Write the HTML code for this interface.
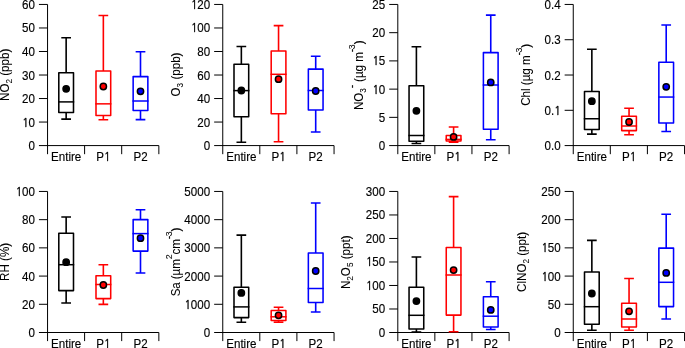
<!DOCTYPE html><html><head><meta charset="utf-8"><title>Box plots</title><style>html,body{margin:0;padding:0;background:#fff}svg{display:block;will-change:transform}</style></head><body><svg width="685" height="348" viewBox="0 0 685 348" font-family="'Liberation Sans', Arial, sans-serif" font-size="11.6" fill="#000" stroke="#000" stroke-width="0.14">
<rect width="685" height="348" fill="#fff" stroke="none"/>
<g><path d="M47.55 4.45V154.18M38.95 145.58H158.85M38.95 122.06H47.55M38.95 98.54H47.55M38.95 75.02H47.55M38.95 51.49H47.55M38.95 27.97H47.55M38.95 4.45H47.55M84.60 145.58v8.6M121.70 145.58v8.6M158.85 145.58v8.6" fill="none" stroke="#000" stroke-width="1.0"/><text transform="translate(34.95 150.08) scale(1 1.08)" text-anchor="end">0</text><text transform="translate(34.95 126.56) scale(1 1.08)" text-anchor="end"><tspan font-family="NanumGothic, 'Liberation Sans', sans-serif" font-size="10.7" stroke-width="0.36" letter-spacing="-0.25">1</tspan>0</text><text transform="translate(34.95 103.04) scale(1 1.08)" text-anchor="end">20</text><text transform="translate(34.95 79.52) scale(1 1.08)" text-anchor="end">30</text><text transform="translate(34.95 55.99) scale(1 1.08)" text-anchor="end">40</text><text transform="translate(34.95 32.47) scale(1 1.08)" text-anchor="end">50</text><text transform="translate(34.95 8.95) scale(1 1.08)" text-anchor="end">60</text><text transform="translate(66.15 161.48) scale(1 1.08)" text-anchor="middle">Entire</text><text transform="translate(103.35 161.48) scale(1 1.08)" text-anchor="middle">P<tspan font-family="NanumGothic, 'Liberation Sans', sans-serif" font-size="10.7" stroke-width="0.36">1</tspan></text><text transform="translate(140.50 161.48) scale(1 1.08)" text-anchor="middle">P2</text><text transform="translate(8.90 100.90) rotate(-90) scale(1 1.05)" stroke-width="0.05" letter-spacing="0" xml:space="preserve"><tspan>NO</tspan><tspan dy="2.60" font-size="8.2">2</tspan><tspan dy="-2.60"> (ppb)</tspan></text><path d="M61.30 37.70H71.00M58.80 72.65H73.50V112.50H58.80ZM61.30 119.10H71.00" fill="none" stroke="#000" stroke-width="1.55" stroke-linejoin="round"/><path d="M58.10 101.90H74.20" fill="none" stroke="#000" stroke-width="1.5"/><path d="M66.15 37.70V72.65M66.15 112.50V119.10" fill="none" stroke="#000" stroke-width="1.6"/><circle cx="66.15" cy="88.80" r="3.15" fill="#000" stroke="#000" stroke-width="1.5"/><path d="M98.50 15.45H108.20M96.00 70.90H110.70V115.50H96.00ZM98.50 119.80H108.20" fill="none" stroke="#ff0000" stroke-width="1.55" stroke-linejoin="round"/><path d="M95.30 103.85H111.40" fill="none" stroke="#ff0000" stroke-width="1.5"/><path d="M103.35 15.45V70.90M103.35 115.50V119.80" fill="none" stroke="#ff0000" stroke-width="1.6"/><circle cx="103.35" cy="86.50" r="3.15" fill="#ff0000" stroke="#000" stroke-width="1.5"/><path d="M135.65 51.70H145.35M133.15 76.60H147.85V110.40H133.15ZM135.65 119.60H145.35" fill="none" stroke="#0000ff" stroke-width="1.55" stroke-linejoin="round"/><path d="M132.45 101.00H148.55" fill="none" stroke="#0000ff" stroke-width="1.5"/><path d="M140.50 51.70V76.60M140.50 110.40V119.60" fill="none" stroke="#0000ff" stroke-width="1.6"/><circle cx="140.50" cy="91.30" r="3.15" fill="#0000ff" stroke="#000" stroke-width="1.5"/></g>
<g><path d="M222.75 4.45V154.18M214.15 145.58H334.05M214.15 122.06H222.75M214.15 98.54H222.75M214.15 75.02H222.75M214.15 51.49H222.75M214.15 27.97H222.75M214.15 4.45H222.75M259.80 145.58v8.6M296.90 145.58v8.6M334.05 145.58v8.6" fill="none" stroke="#000" stroke-width="1.0"/><text transform="translate(210.15 150.08) scale(1 1.08)" text-anchor="end">0</text><text transform="translate(210.15 126.56) scale(1 1.08)" text-anchor="end">20</text><text transform="translate(210.15 103.04) scale(1 1.08)" text-anchor="end">40</text><text transform="translate(210.15 79.52) scale(1 1.08)" text-anchor="end">60</text><text transform="translate(210.15 55.99) scale(1 1.08)" text-anchor="end">80</text><text transform="translate(210.15 32.47) scale(1 1.08)" text-anchor="end"><tspan font-family="NanumGothic, 'Liberation Sans', sans-serif" font-size="10.7" stroke-width="0.36" letter-spacing="-0.25">1</tspan>00</text><text transform="translate(210.15 8.95) scale(1 1.08)" text-anchor="end"><tspan font-family="NanumGothic, 'Liberation Sans', sans-serif" font-size="10.7" stroke-width="0.36" letter-spacing="-0.25">1</tspan>20</text><text transform="translate(241.35 161.48) scale(1 1.08)" text-anchor="middle">Entire</text><text transform="translate(278.55 161.48) scale(1 1.08)" text-anchor="middle">P<tspan font-family="NanumGothic, 'Liberation Sans', sans-serif" font-size="10.7" stroke-width="0.36">1</tspan></text><text transform="translate(315.70 161.48) scale(1 1.08)" text-anchor="middle">P2</text><text transform="translate(180.00 96.40) rotate(-90) scale(1 1.05)" stroke-width="0.05" letter-spacing="0" xml:space="preserve"><tspan>O</tspan><tspan dy="2.60" font-size="8.2">3</tspan><tspan dy="-2.60"> (ppb)</tspan></text><path d="M236.50 46.50H246.20M234.00 64.20H248.70V116.70H234.00ZM236.50 142.30H246.20" fill="none" stroke="#000" stroke-width="1.55" stroke-linejoin="round"/><path d="M233.30 90.60H249.40" fill="none" stroke="#000" stroke-width="1.5"/><path d="M241.35 46.50V64.20M241.35 116.70V142.30" fill="none" stroke="#000" stroke-width="1.6"/><circle cx="241.35" cy="90.50" r="3.15" fill="#000" stroke="#000" stroke-width="1.5"/><path d="M273.70 25.60H283.40M271.20 50.90H285.90V113.70H271.20ZM273.70 141.80H283.40" fill="none" stroke="#ff0000" stroke-width="1.55" stroke-linejoin="round"/><path d="M270.50 74.30H286.60" fill="none" stroke="#ff0000" stroke-width="1.5"/><path d="M278.55 25.60V50.90M278.55 113.70V141.80" fill="none" stroke="#ff0000" stroke-width="1.6"/><circle cx="278.55" cy="79.20" r="3.15" fill="#ff0000" stroke="#000" stroke-width="1.5"/><path d="M310.85 56.30H320.55M308.35 69.10H323.05V109.90H308.35ZM310.85 132.00H320.55" fill="none" stroke="#0000ff" stroke-width="1.55" stroke-linejoin="round"/><path d="M307.65 90.50H323.75" fill="none" stroke="#0000ff" stroke-width="1.5"/><path d="M315.70 56.30V69.10M315.70 109.90V132.00" fill="none" stroke="#0000ff" stroke-width="1.6"/><circle cx="315.70" cy="91.00" r="3.15" fill="#0000ff" stroke="#000" stroke-width="1.5"/></g>
<g><path d="M397.80 4.45V154.18M389.20 145.58H509.10M389.20 117.35H397.80M389.20 89.13H397.80M389.20 60.90H397.80M389.20 32.68H397.80M389.20 4.45H397.80M434.85 145.58v8.6M471.95 145.58v8.6M509.10 145.58v8.6" fill="none" stroke="#000" stroke-width="1.0"/><text transform="translate(385.20 150.08) scale(1 1.08)" text-anchor="end">0</text><text transform="translate(385.20 121.85) scale(1 1.08)" text-anchor="end">5</text><text transform="translate(385.20 93.63) scale(1 1.08)" text-anchor="end"><tspan font-family="NanumGothic, 'Liberation Sans', sans-serif" font-size="10.7" stroke-width="0.36" letter-spacing="-0.25">1</tspan>0</text><text transform="translate(385.20 65.40) scale(1 1.08)" text-anchor="end"><tspan font-family="NanumGothic, 'Liberation Sans', sans-serif" font-size="10.7" stroke-width="0.36" letter-spacing="-0.25">1</tspan>5</text><text transform="translate(385.20 37.18) scale(1 1.08)" text-anchor="end">20</text><text transform="translate(385.20 8.95) scale(1 1.08)" text-anchor="end">25</text><text transform="translate(416.40 161.48) scale(1 1.08)" text-anchor="middle">Entire</text><text transform="translate(453.60 161.48) scale(1 1.08)" text-anchor="middle">P<tspan font-family="NanumGothic, 'Liberation Sans', sans-serif" font-size="10.7" stroke-width="0.36">1</tspan></text><text transform="translate(490.75 161.48) scale(1 1.08)" text-anchor="middle">P2</text><text transform="translate(363.00 110.00) rotate(-90) scale(1 1.05)" stroke-width="0.05" letter-spacing="0" xml:space="preserve"><tspan>NO</tspan><tspan dy="2.60" font-size="8.2">3</tspan><tspan dy="-10.30" font-size="8.8" stroke-width="0.45">-</tspan><tspan dy="7.70"> (µg m</tspan><tspan dy="-7.70" font-size="8.8" stroke-width="0.45">-</tspan><tspan dx="-0.1" font-size="8.8">3</tspan><tspan dy="7.70">)</tspan></text><path d="M411.55 46.70H421.25M409.05 85.70H423.75V141.25H409.05ZM411.55 143.50H421.25" fill="none" stroke="#000" stroke-width="1.55" stroke-linejoin="round"/><path d="M408.35 135.50H424.45" fill="none" stroke="#000" stroke-width="1.5"/><path d="M416.40 46.70V85.70M416.40 141.25V143.50" fill="none" stroke="#000" stroke-width="1.6"/><circle cx="416.40" cy="110.80" r="3.15" fill="#000" stroke="#000" stroke-width="1.5"/><path d="M448.75 126.95H458.45M446.25 135.50H460.95V141.00H446.25ZM448.75 142.10H458.45" fill="none" stroke="#ff0000" stroke-width="1.55" stroke-linejoin="round"/><path d="M445.55 139.40H461.65" fill="none" stroke="#ff0000" stroke-width="1.5"/><path d="M453.60 126.95V135.50M453.60 141.00V142.10" fill="none" stroke="#ff0000" stroke-width="1.6"/><circle cx="453.60" cy="136.90" r="3.15" fill="#ff0000" stroke="#000" stroke-width="1.5"/><path d="M485.90 15.10H495.60M483.40 52.60H498.10V129.20H483.40ZM485.90 139.70H495.60" fill="none" stroke="#0000ff" stroke-width="1.55" stroke-linejoin="round"/><path d="M482.70 85.00H498.80" fill="none" stroke="#0000ff" stroke-width="1.5"/><path d="M490.75 15.10V52.60M490.75 129.20V139.70" fill="none" stroke="#0000ff" stroke-width="1.6"/><circle cx="490.75" cy="82.40" r="3.15" fill="#0000ff" stroke="#000" stroke-width="1.5"/></g>
<g><path d="M573.25 4.45V154.18M564.65 145.58H684.55M564.65 110.30H573.25M564.65 75.02H573.25M564.65 39.73H573.25M564.65 4.45H573.25M610.30 145.58v8.6M647.40 145.58v8.6M684.55 145.58v8.6" fill="none" stroke="#000" stroke-width="1.0"/><text transform="translate(560.65 150.08) scale(1 1.08)" text-anchor="end">0.0</text><text transform="translate(560.65 114.80) scale(1 1.08)" text-anchor="end">0.<tspan font-family="NanumGothic, 'Liberation Sans', sans-serif" font-size="10.7" stroke-width="0.36">1</tspan></text><text transform="translate(560.65 79.52) scale(1 1.08)" text-anchor="end">0.2</text><text transform="translate(560.65 44.23) scale(1 1.08)" text-anchor="end">0.3</text><text transform="translate(560.65 8.95) scale(1 1.08)" text-anchor="end">0.4</text><text transform="translate(591.85 161.48) scale(1 1.08)" text-anchor="middle">Entire</text><text transform="translate(629.05 161.48) scale(1 1.08)" text-anchor="middle">P<tspan font-family="NanumGothic, 'Liberation Sans', sans-serif" font-size="10.7" stroke-width="0.36">1</tspan></text><text transform="translate(666.20 161.48) scale(1 1.08)" text-anchor="middle">P2</text><text transform="translate(530.20 105.80) rotate(-90) scale(1 1.05)" stroke-width="0.05" letter-spacing="0" xml:space="preserve"><tspan>Chl (µg m</tspan><tspan dy="-7.70" font-size="8.8" stroke-width="0.45">-</tspan><tspan dx="-0.1" font-size="8.8">3</tspan><tspan dy="7.70">)</tspan></text><path d="M587.00 49.20H596.70M584.50 91.50H599.20V129.50H584.50ZM587.00 134.10H596.70" fill="none" stroke="#000" stroke-width="1.55" stroke-linejoin="round"/><path d="M583.80 118.75H599.90" fill="none" stroke="#000" stroke-width="1.5"/><path d="M591.85 49.20V91.50M591.85 129.50V134.10" fill="none" stroke="#000" stroke-width="1.6"/><circle cx="591.85" cy="101.20" r="3.15" fill="#000" stroke="#000" stroke-width="1.5"/><path d="M624.20 108.15H633.90M621.70 116.20H636.40V130.60H621.70ZM624.20 134.80H633.90" fill="none" stroke="#ff0000" stroke-width="1.55" stroke-linejoin="round"/><path d="M621.00 126.00H637.10" fill="none" stroke="#ff0000" stroke-width="1.5"/><path d="M629.05 108.15V116.20M629.05 130.60V134.80" fill="none" stroke="#ff0000" stroke-width="1.6"/><circle cx="629.05" cy="122.00" r="3.15" fill="#ff0000" stroke="#000" stroke-width="1.5"/><path d="M661.35 25.05H671.05M658.85 62.30H673.55V122.90H658.85ZM661.35 131.40H671.05" fill="none" stroke="#0000ff" stroke-width="1.55" stroke-linejoin="round"/><path d="M658.15 97.05H674.25" fill="none" stroke="#0000ff" stroke-width="1.5"/><path d="M666.20 25.05V62.30M666.20 122.90V131.40" fill="none" stroke="#0000ff" stroke-width="1.6"/><circle cx="666.20" cy="86.80" r="3.15" fill="#0000ff" stroke="#000" stroke-width="1.5"/></g>
<g><path d="M47.55 191.45V341.10M38.95 332.50H158.85M38.95 304.29H47.55M38.95 276.08H47.55M38.95 247.87H47.55M38.95 219.66H47.55M38.95 191.45H47.55M84.60 332.50v8.6M121.70 332.50v8.6M158.85 332.50v8.6" fill="none" stroke="#000" stroke-width="1.0"/><text transform="translate(34.95 337.00) scale(1 1.08)" text-anchor="end">0</text><text transform="translate(34.95 308.79) scale(1 1.08)" text-anchor="end">20</text><text transform="translate(34.95 280.58) scale(1 1.08)" text-anchor="end">40</text><text transform="translate(34.95 252.37) scale(1 1.08)" text-anchor="end">60</text><text transform="translate(34.95 224.16) scale(1 1.08)" text-anchor="end">80</text><text transform="translate(34.95 195.95) scale(1 1.08)" text-anchor="end"><tspan font-family="NanumGothic, 'Liberation Sans', sans-serif" font-size="10.7" stroke-width="0.36" letter-spacing="-0.25">1</tspan>00</text><text transform="translate(66.15 348.40) scale(1 1.08)" text-anchor="middle">Entire</text><text transform="translate(103.35 348.40) scale(1 1.08)" text-anchor="middle">P<tspan font-family="NanumGothic, 'Liberation Sans', sans-serif" font-size="10.7" stroke-width="0.36">1</tspan></text><text transform="translate(140.50 348.40) scale(1 1.08)" text-anchor="middle">P2</text><text transform="translate(8.80 280.90) rotate(-90) scale(1 1.05)" stroke-width="0.05" letter-spacing="0" xml:space="preserve"><tspan>RH (%)</tspan></text><path d="M61.30 217.00H71.00M58.80 233.30H73.50V290.60H58.80ZM61.30 302.95H71.00" fill="none" stroke="#000" stroke-width="1.55" stroke-linejoin="round"/><path d="M58.10 264.70H74.20" fill="none" stroke="#000" stroke-width="1.5"/><path d="M66.15 217.00V233.30M66.15 290.60V302.95" fill="none" stroke="#000" stroke-width="1.6"/><circle cx="66.15" cy="262.15" r="3.15" fill="#000" stroke="#000" stroke-width="1.5"/><path d="M98.50 264.70H108.20M96.00 275.75H110.70V298.60H96.00ZM98.50 304.35H108.20" fill="none" stroke="#ff0000" stroke-width="1.55" stroke-linejoin="round"/><path d="M95.30 284.50H111.40" fill="none" stroke="#ff0000" stroke-width="1.5"/><path d="M103.35 264.70V275.75M103.35 298.60V304.35" fill="none" stroke="#ff0000" stroke-width="1.6"/><circle cx="103.35" cy="285.00" r="3.15" fill="#ff0000" stroke="#000" stroke-width="1.5"/><path d="M135.65 209.80H145.35M133.15 219.60H147.85V251.10H133.15ZM135.65 273.00H145.35" fill="none" stroke="#0000ff" stroke-width="1.55" stroke-linejoin="round"/><path d="M132.45 233.60H148.55" fill="none" stroke="#0000ff" stroke-width="1.5"/><path d="M140.50 209.80V219.60M140.50 251.10V273.00" fill="none" stroke="#0000ff" stroke-width="1.6"/><circle cx="140.50" cy="238.20" r="3.15" fill="#0000ff" stroke="#000" stroke-width="1.5"/></g>
<g><path d="M222.75 191.45V341.10M214.15 332.50H334.05M214.15 304.29H222.75M214.15 276.08H222.75M214.15 247.87H222.75M214.15 219.66H222.75M214.15 191.45H222.75M259.80 332.50v8.6M296.90 332.50v8.6M334.05 332.50v8.6" fill="none" stroke="#000" stroke-width="1.0"/><text transform="translate(210.15 337.00) scale(1 1.08)" text-anchor="end">0</text><text transform="translate(210.15 308.79) scale(1 1.08)" text-anchor="end"><tspan font-family="NanumGothic, 'Liberation Sans', sans-serif" font-size="10.7" stroke-width="0.36" letter-spacing="-0.25">1</tspan>000</text><text transform="translate(210.15 280.58) scale(1 1.08)" text-anchor="end">2000</text><text transform="translate(210.15 252.37) scale(1 1.08)" text-anchor="end">3000</text><text transform="translate(210.15 224.16) scale(1 1.08)" text-anchor="end">4000</text><text transform="translate(210.15 195.95) scale(1 1.08)" text-anchor="end">5000</text><text transform="translate(241.35 348.40) scale(1 1.08)" text-anchor="middle">Entire</text><text transform="translate(278.55 348.40) scale(1 1.08)" text-anchor="middle">P<tspan font-family="NanumGothic, 'Liberation Sans', sans-serif" font-size="10.7" stroke-width="0.36">1</tspan></text><text transform="translate(315.70 348.40) scale(1 1.08)" text-anchor="middle">P2</text><text transform="translate(180.00 296.30) rotate(-90) scale(1 1.05)" stroke-width="0.05" letter-spacing="-0.08" xml:space="preserve"><tspan>Sa (µm</tspan><tspan dy="-7.70" font-size="8.8">2</tspan><tspan dy="7.70">cm</tspan><tspan dy="-7.70" font-size="8.8" stroke-width="0.45">-</tspan><tspan dx="-0.1" font-size="8.8">3</tspan><tspan dy="7.70">)</tspan></text><path d="M236.50 235.10H246.20M234.00 287.30H248.70V317.60H234.00ZM236.50 322.30H246.20" fill="none" stroke="#000" stroke-width="1.55" stroke-linejoin="round"/><path d="M233.30 306.90H249.40" fill="none" stroke="#000" stroke-width="1.5"/><path d="M241.35 235.10V287.30M241.35 317.60V322.30" fill="none" stroke="#000" stroke-width="1.6"/><circle cx="241.35" cy="292.90" r="3.15" fill="#000" stroke="#000" stroke-width="1.5"/><path d="M273.70 307.20H283.40M271.20 310.50H285.90V320.50H271.20ZM273.70 322.20H283.40" fill="none" stroke="#ff0000" stroke-width="1.55" stroke-linejoin="round"/><path d="M270.50 316.80H286.60" fill="none" stroke="#ff0000" stroke-width="1.5"/><path d="M278.55 307.20V310.50M278.55 320.50V322.20" fill="none" stroke="#ff0000" stroke-width="1.6"/><circle cx="278.55" cy="315.30" r="3.15" fill="#ff0000" stroke="#000" stroke-width="1.5"/><path d="M310.85 203.00H320.55M308.35 253.00H323.05V302.50H308.35ZM310.85 312.00H320.55" fill="none" stroke="#0000ff" stroke-width="1.55" stroke-linejoin="round"/><path d="M307.65 288.50H323.75" fill="none" stroke="#0000ff" stroke-width="1.5"/><path d="M315.70 203.00V253.00M315.70 302.50V312.00" fill="none" stroke="#0000ff" stroke-width="1.6"/><circle cx="315.70" cy="271.00" r="3.15" fill="#0000ff" stroke="#000" stroke-width="1.5"/></g>
<g><path d="M397.80 191.45V341.10M389.20 332.50H509.10M389.20 308.99H397.80M389.20 285.48H397.80M389.20 261.98H397.80M389.20 238.47H397.80M389.20 214.96H397.80M389.20 191.45H397.80M434.85 332.50v8.6M471.95 332.50v8.6M509.10 332.50v8.6" fill="none" stroke="#000" stroke-width="1.0"/><text transform="translate(385.20 337.00) scale(1 1.08)" text-anchor="end">0</text><text transform="translate(385.20 313.49) scale(1 1.08)" text-anchor="end">50</text><text transform="translate(385.20 289.98) scale(1 1.08)" text-anchor="end"><tspan font-family="NanumGothic, 'Liberation Sans', sans-serif" font-size="10.7" stroke-width="0.36" letter-spacing="-0.25">1</tspan>00</text><text transform="translate(385.20 266.48) scale(1 1.08)" text-anchor="end"><tspan font-family="NanumGothic, 'Liberation Sans', sans-serif" font-size="10.7" stroke-width="0.36" letter-spacing="-0.25">1</tspan>50</text><text transform="translate(385.20 242.97) scale(1 1.08)" text-anchor="end">200</text><text transform="translate(385.20 219.46) scale(1 1.08)" text-anchor="end">250</text><text transform="translate(385.20 195.95) scale(1 1.08)" text-anchor="end">300</text><text transform="translate(416.40 348.40) scale(1 1.08)" text-anchor="middle">Entire</text><text transform="translate(453.60 348.40) scale(1 1.08)" text-anchor="middle">P<tspan font-family="NanumGothic, 'Liberation Sans', sans-serif" font-size="10.7" stroke-width="0.36">1</tspan></text><text transform="translate(490.75 348.40) scale(1 1.08)" text-anchor="middle">P2</text><text transform="translate(350.10 289.05) rotate(-90) scale(1 1.05)" stroke-width="0.05" letter-spacing="0" xml:space="preserve"><tspan>N</tspan><tspan dy="2.60" font-size="8.2">2</tspan><tspan dy="-2.60">O</tspan><tspan dy="2.60" font-size="8.2">5</tspan><tspan dy="-2.60"> (ppt)</tspan></text><path d="M411.55 257.00H421.25M409.05 287.30H423.75V328.90H409.05ZM411.55 332.00H421.25" fill="none" stroke="#000" stroke-width="1.55" stroke-linejoin="round"/><path d="M408.35 315.30H424.45" fill="none" stroke="#000" stroke-width="1.5"/><path d="M416.40 257.00V287.30M416.40 328.90V332.00" fill="none" stroke="#000" stroke-width="1.6"/><circle cx="416.40" cy="301.10" r="3.15" fill="#000" stroke="#000" stroke-width="1.5"/><path d="M448.75 196.60H458.45M446.25 247.40H460.95V315.10H446.25ZM448.75 331.80H458.45" fill="none" stroke="#ff0000" stroke-width="1.55" stroke-linejoin="round"/><path d="M445.55 275.00H461.65" fill="none" stroke="#ff0000" stroke-width="1.5"/><path d="M453.60 196.60V247.40M453.60 315.10V331.80" fill="none" stroke="#ff0000" stroke-width="1.6"/><circle cx="453.60" cy="270.10" r="3.15" fill="#ff0000" stroke="#000" stroke-width="1.5"/><path d="M485.90 281.70H495.60M483.40 296.80H498.10V327.00H483.40ZM485.90 329.50H495.60" fill="none" stroke="#0000ff" stroke-width="1.55" stroke-linejoin="round"/><path d="M482.70 316.20H498.80" fill="none" stroke="#0000ff" stroke-width="1.5"/><path d="M490.75 281.70V296.80M490.75 327.00V329.50" fill="none" stroke="#0000ff" stroke-width="1.6"/><circle cx="490.75" cy="309.90" r="3.15" fill="#0000ff" stroke="#000" stroke-width="1.5"/></g>
<g><path d="M573.25 191.45V341.10M564.65 332.50H684.55M564.65 304.29H573.25M564.65 276.08H573.25M564.65 247.87H573.25M564.65 219.66H573.25M564.65 191.45H573.25M610.30 332.50v8.6M647.40 332.50v8.6M684.55 332.50v8.6" fill="none" stroke="#000" stroke-width="1.0"/><text transform="translate(560.65 337.00) scale(1 1.08)" text-anchor="end">0</text><text transform="translate(560.65 308.79) scale(1 1.08)" text-anchor="end">50</text><text transform="translate(560.65 280.58) scale(1 1.08)" text-anchor="end"><tspan font-family="NanumGothic, 'Liberation Sans', sans-serif" font-size="10.7" stroke-width="0.36" letter-spacing="-0.25">1</tspan>00</text><text transform="translate(560.65 252.37) scale(1 1.08)" text-anchor="end"><tspan font-family="NanumGothic, 'Liberation Sans', sans-serif" font-size="10.7" stroke-width="0.36" letter-spacing="-0.25">1</tspan>50</text><text transform="translate(560.65 224.16) scale(1 1.08)" text-anchor="end">200</text><text transform="translate(560.65 195.95) scale(1 1.08)" text-anchor="end">250</text><text transform="translate(591.85 348.40) scale(1 1.08)" text-anchor="middle">Entire</text><text transform="translate(629.05 348.40) scale(1 1.08)" text-anchor="middle">P<tspan font-family="NanumGothic, 'Liberation Sans', sans-serif" font-size="10.7" stroke-width="0.36">1</tspan></text><text transform="translate(666.20 348.40) scale(1 1.08)" text-anchor="middle">P2</text><text transform="translate(526.40 291.90) rotate(-90) scale(1 1.05)" stroke-width="0.05" letter-spacing="0" xml:space="preserve"><tspan>ClNO</tspan><tspan dy="2.60" font-size="8.2">2</tspan><tspan dy="-2.60"> (ppt)</tspan></text><path d="M587.00 240.35H596.70M584.50 271.90H599.20V324.20H584.50ZM587.00 330.20H596.70" fill="none" stroke="#000" stroke-width="1.55" stroke-linejoin="round"/><path d="M583.80 306.70H599.90" fill="none" stroke="#000" stroke-width="1.5"/><path d="M591.85 240.35V271.90M591.85 324.20V330.20" fill="none" stroke="#000" stroke-width="1.6"/><circle cx="591.85" cy="293.50" r="3.15" fill="#000" stroke="#000" stroke-width="1.5"/><path d="M624.20 278.40H633.90M621.70 303.20H636.40V327.00H621.70ZM624.20 330.30H633.90" fill="none" stroke="#ff0000" stroke-width="1.55" stroke-linejoin="round"/><path d="M621.00 319.00H637.10" fill="none" stroke="#ff0000" stroke-width="1.5"/><path d="M629.05 278.40V303.20M629.05 327.00V330.30" fill="none" stroke="#ff0000" stroke-width="1.6"/><circle cx="629.05" cy="311.30" r="3.15" fill="#ff0000" stroke="#000" stroke-width="1.5"/><path d="M661.35 214.30H671.05M658.85 248.10H673.55V306.60H658.85ZM661.35 319.00H671.05" fill="none" stroke="#0000ff" stroke-width="1.55" stroke-linejoin="round"/><path d="M658.15 282.30H674.25" fill="none" stroke="#0000ff" stroke-width="1.5"/><path d="M666.20 214.30V248.10M666.20 306.60V319.00" fill="none" stroke="#0000ff" stroke-width="1.6"/><circle cx="666.20" cy="272.90" r="3.15" fill="#0000ff" stroke="#000" stroke-width="1.5"/></g>
</svg></body></html>
